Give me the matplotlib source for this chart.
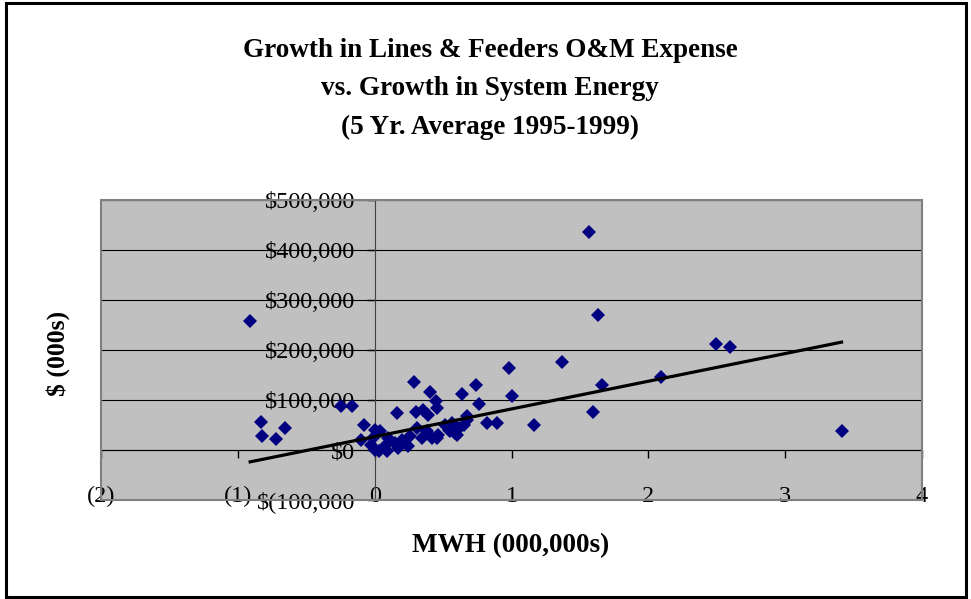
import numpy as np
import matplotlib.pyplot as plt
from matplotlib.patches import Rectangle
from matplotlib.ticker import FuncFormatter

# growth in system energy (MWH, 000,000s) vs growth in O&M expense ($000s)
energy_growth = [
    -0.91, -0.83, -0.82, -0.72, -0.655, -0.247, -0.162, -0.08, -0.10,
    -0.03, 0.0, 0.03, 0.004, 0.04, -0.01, 0.077, 0.09, 0.10, 0.15, 0.174,
    0.20, 0.247, 0.26, 0.31, 0.345, 0.38, 0.42, 0.466, 0.515, 0.54, 0.564,
    0.588, 0.613, 0.65, 0.674, 0.455, 0.60, 0.55,
    0.162, 0.30, 0.35, 0.39, 0.45, 0.455, 0.291, 0.406, 0.637, 0.74, 0.764,
    0.674, 0.82, 0.893, 0.983, 1.007, 1.161, 1.366, 1.57, 1.595, 1.63,
    1.66, 2.094, 2.494, 2.594, 3.412,
]
expense_growth = [
    258000, 57000, 28000, 23000, 44000, 88000, 88000, 50000, 20000,
    11000, 1000, -2000, 41000, 38000, 25000, 8000, -2000, 25000, 15000, 5000,
    21000, 8000, 28000, 45000, 25000, 38000, 25000, 31000, 51000, 41000, 55000,
    35000, 45000, 51000, 61000, 25000, 31000, 38000,
    75000, 76000, 80000, 71000, 98000, 85000, 136000, 116000, 113000, 131000, 93000,
    68000, 55000, 55000, 164000, 109000, 50000, 177000, 437000, 77000, 271000,
    131000, 147000, 213000, 206000, 39000,
]

# linear trendline (expense = slope * energy + intercept)
trend_slope = 55400
trend_intercept = 26700

x_ticks = [-2, -1, 0, 1, 2, 3, 4]
x_tick_labels = ["(2)", "(1)", "0", "1", "2", "3", "4"]
y_ticks = [-100000, 0, 100000, 200000, 300000, 400000, 500000]

title = ("Growth in Lines & Feeders O&M Expense\n"
         "vs. Growth in System Energy\n"
         "(5 Yr. Average 1995-1999)")

serif = ["Liberation Serif", "DejaVu Serif"]
plt.rcParams['font.family'] = serif

W, H = 971, 599
fig = plt.figure(figsize=(W / 100, H / 100), dpi=100)
fig.patch.set_facecolor("white")

# plot area in pixels: x 101..922, y 200..500
ax = fig.add_axes([101 / W, (H - 500) / H, 821 / W, 300 / H])
ax.set_facecolor("#C0C0C0")

x = np.array(energy_growth)
y = np.array(expense_growth)

ax.yaxis.grid(True, color="black", linewidth=0.8)
ax.set_axisbelow(True)

ax.plot(x, y, linestyle="none", marker="D", markersize=7.5,
        color="#000080", markeredgewidth=0, zorder=3)

xl = np.array([x.min(), x.max()])
ax.plot(xl, trend_slope * xl + trend_intercept, color="black", linewidth=2.3, zorder=4)

ax.set_xlim(-2, 4)
ax.set_ylim(-100000, 500000)

# axes cross at zero
ax.spines["left"].set_position(("data", 0))
ax.spines["bottom"].set_position(("data", 0))
ax.spines["top"].set_visible(False)
ax.spines["right"].set_visible(False)
ax.spines["left"].set_color("#404040")
ax.spines["bottom"].set_color("black")
ax.spines["left"].set_zorder(2)
ax.spines["bottom"].set_zorder(2)

ax.add_patch(Rectangle((0, 0), 1, 1, transform=ax.transAxes, fill=False,
                       edgecolor="#808080", linewidth=1.5, clip_on=False, zorder=5))


def money(v, pos):
    if v < 0:
        return "$({:,.0f}".format(-v)
    return "${:,.0f}".format(v)


ax.set_yticks(y_ticks)
ax.yaxis.set_major_formatter(FuncFormatter(money))
ax.set_xticks(x_ticks)
ax.set_xticklabels(x_tick_labels)
ax.tick_params(axis="y", direction="out", length=6, width=1, pad=8, labelsize=17.5)
ax.tick_params(axis="x", direction="out", length=6, width=1, pad=20, labelsize=17.5)
for lbl in ax.get_yticklabels() + ax.get_xticklabels():
    lbl.set_zorder(6)

fig.text(490 / W, 1 - 89 / H, title, ha="center", va="center",
         fontsize=19.5, fontweight="bold", linespacing=1.7)
fig.text(58 / W, 1 - 353 / H, "$ (000s)", ha="center", va="center",
         rotation=90, fontsize=18.5, fontweight="bold")
fig.text(511 / W, 1 - 546 / H, "MWH (000,000s)", ha="center", va="center",
         fontsize=19.5, fontweight="bold")

# outer frame around the whole chart
fig.add_artist(Rectangle((5.5 / W, 2.5 / H), 960 / W, 594 / H,
                         transform=fig.transFigure, fill=False,
                         edgecolor="black", linewidth=2.2))

fig.savefig("out.png", dpi=100)
